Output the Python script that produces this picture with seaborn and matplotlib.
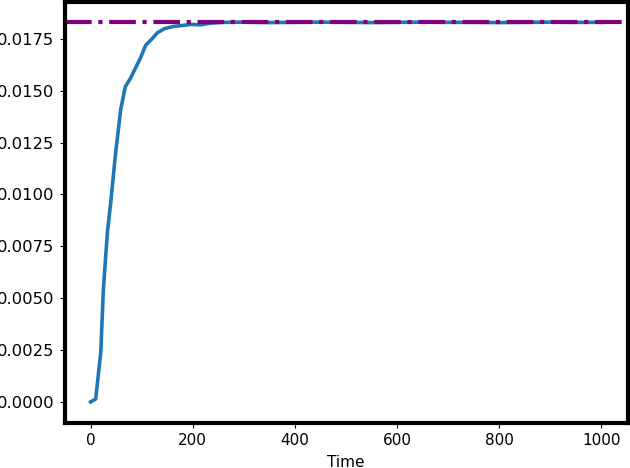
import numpy as np
import pandas as pd
import matplotlib
matplotlib.use("Agg")
import matplotlib.pyplot as plt
import seaborn as sns

# values
time = [0, 10, 20, 25, 33, 39, 49, 59, 68, 78, 88, 98, 108, 120, 131, 145, 162,
        180, 196, 215, 235, 260, 300, 350, 400, 450, 500, 550, 600, 650, 700,
        750, 800, 850, 900, 950, 1000]
value = [0.0000, 0.00014, 0.0024, 0.0054, 0.0082, 0.0095, 0.0120, 0.0141,
         0.0152, 0.0156, 0.0161, 0.0166, 0.0172, 0.0175, 0.0178, 0.0180, 0.0181,
         0.01815, 0.0182, 0.01818, 0.01826, 0.0183, 0.01831, 0.01829, 0.0183,
         0.01831, 0.0183, 0.01829, 0.0183, 0.01831, 0.0183, 0.0183, 0.01829,
         0.0183, 0.01831, 0.0183, 0.0183]
steady_state = 0.0183

df = pd.DataFrame({"Time": time, "Value": value})

fig = plt.figure(figsize=(6.3, 4.68), dpi=100)
ax = fig.add_axes([0.1024, 0.0951, 0.8937, 0.9006])

sns.lineplot(data=df, x="Time", y="Value", ax=ax, color="#1f77b4", linewidth=2.6)
ax.axhline(steady_state, color="purple", linestyle="-.", linewidth=3)

ax.set_xlim(-51, 1051)
ax.set_ylim(-0.00104, 0.01928)
ax.set_xticks([0, 200, 400, 600, 800, 1000])
ax.set_yticks(np.arange(0, 0.0176, 0.0025))
ax.yaxis.set_major_formatter(matplotlib.ticker.FormatStrFormatter("%.4f"))
ax.set_xlabel("Time", fontsize=11, labelpad=5)
ax.set_ylabel("")
ax.tick_params(axis="x", labelsize=11)
ax.tick_params(axis="y", labelsize=11.8, pad=4)

for s in ax.spines.values():
    s.set_linewidth(3)
    s.set_color("black")

fig.savefig("out.png", dpi=100)
